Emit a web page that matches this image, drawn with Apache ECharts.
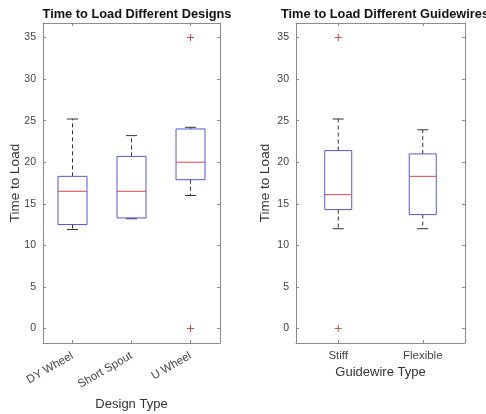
<!DOCTYPE html>
<html>
<head>
<meta charset="utf-8">
<script src="https://cdn.jsdelivr.net/npm/echarts@6/dist/echarts.min.js"></script>
<style>
  html, body { margin: 0; padding: 0; background: #fff; }
  #chart { width: 486px; height: 414px; }
</style>
</head>
<body>
<div id="chart"></div>
<script>
// design boxplot stats
var designCats = ['DY Wheel', 'Short Spout', 'U Wheel'];
var designLow = [11.9, 13.2, 16.0];
var designQ1 = [12.5, 13.3, 17.9];
var designMed = [16.5, 16.5, 20.0];
var designQ3 = [18.3, 20.7, 24.0];
var designHigh = [25.2, 23.2, 24.2];
var designOutliers = [[2, 35], [2, 0]];

// guidewire boxplot stats
var guideCats = ['Stiff', 'Flexible'];
var guideLow = [12.0, 12.0];
var guideQ1 = [14.3, 13.7];
var guideMed = [16.1, 18.3];
var guideQ3 = [21.4, 21.0];
var guideHigh = [25.2, 23.9];
var guideOutliers = [[0, 35], [0, 0]];

var yTicks = [0, 5, 10, 15, 20, 25, 30, 35];
var yMin = -1.75, yMax = 36.75;

var font = 'Liberation Sans, Arial, sans-serif';
var axisColor = '#8c8c8c';

function boxData(low, q1, med, q3, high) {
  return low.map(function (v, i) { return [i, v, q1[i], med[i], q3[i], high[i]]; });
}

function boxRender(bw) {
  return function (params, api) {
    var x = api.value(0);
    var lo = api.coord([x, api.value(1)]);
    var q1 = api.coord([x, api.value(2)]);
    var md = api.coord([x, api.value(3)]);
    var q3 = api.coord([x, api.value(4)]);
    var hi = api.coord([x, api.value(5)]);
    var cx = lo[0];
    var cw = 11;
    var dash = { stroke: '#333', lineWidth: 1, lineDash: [4, 3] };
    var solid = { stroke: '#333', lineWidth: 1 };
    return {
      type: 'group',
      children: [
        { type: 'line', shape: { x1: cx, y1: q3[1], x2: cx, y2: hi[1] }, style: dash },
        { type: 'line', shape: { x1: cx, y1: q1[1], x2: cx, y2: lo[1] }, style: dash },
        { type: 'line', shape: { x1: cx - cw / 2, y1: hi[1], x2: cx + cw / 2, y2: hi[1] }, style: solid },
        { type: 'line', shape: { x1: cx - cw / 2, y1: lo[1], x2: cx + cw / 2, y2: lo[1] }, style: solid },
        { type: 'rect', shape: { x: cx - bw / 2, y: q3[1], width: bw, height: q1[1] - q3[1] },
          style: { fill: 'none', stroke: '#5656d8', lineWidth: 1 } },
        { type: 'line', shape: { x1: cx - bw / 2, y1: md[1], x2: cx + bw / 2, y2: md[1] },
          style: { stroke: '#e04848', lineWidth: 1 } }
      ]
    };
  };
}

function plusRender(params, api) {
  var p = api.coord([api.value(0), api.value(1)]);
  var s = 3.5;
  var st = { stroke: '#d04a4a', lineWidth: 1 };
  return {
    type: 'group',
    children: [
      { type: 'line', shape: { x1: p[0] - s, y1: p[1], x2: p[0] + s, y2: p[1] }, style: st },
      { type: 'line', shape: { x1: p[0], y1: p[1] - s, x2: p[0], y2: p[1] + s }, style: st }
    ]
  };
}

function yAxisPair(grid, name, gap) {
  return [
    {
      gridIndex: grid, type: 'value', min: yMin, max: yMax, position: 'left',
      name: name, nameLocation: 'middle', nameGap: gap, nameMoveOverlap: false,
      nameTextStyle: { fontFamily: font, fontSize: 13.5, color: '#333' },
      axisLine: { show: true, onZero: false, lineStyle: { color: axisColor } },
      axisTick: { show: true, inside: true, length: 3, customValues: yTicks, lineStyle: { color: axisColor } },
      axisLabel: { customValues: yTicks, margin: 7, fontFamily: font, fontSize: 10.5, color: '#444' },
      splitLine: { show: false }
    },
    {
      gridIndex: grid, type: 'value', min: yMin, max: yMax, position: 'right',
      axisLine: { show: true, onZero: false, lineStyle: { color: axisColor } },
      axisTick: { show: true, inside: true, length: 3, customValues: yTicks, lineStyle: { color: axisColor } },
      axisLabel: { show: false },
      splitLine: { show: false }
    }
  ];
}

function xAxisPair(grid, cats, name, gap, rotate, margin) {
  return [
    {
      gridIndex: grid, type: 'category', data: cats, position: 'bottom',
      name: name, nameLocation: 'middle', nameGap: gap, nameMoveOverlap: false,
      nameTextStyle: { fontFamily: font, fontSize: 13, color: '#333' },
      axisLine: { show: true, onZero: false, lineStyle: { color: axisColor } },
      axisTick: { show: true, inside: true, length: 3, alignWithLabel: true, lineStyle: { color: axisColor } },
      axisLabel: { rotate: rotate, margin: margin, fontFamily: font, fontSize: 11.5, color: '#444', interval: 0 },
      splitLine: { show: false }
    },
    {
      gridIndex: grid, type: 'category', data: cats, position: 'top',
      axisLine: { show: true, onZero: false, lineStyle: { color: axisColor } },
      axisTick: { show: true, inside: true, length: 3, alignWithLabel: true, lineStyle: { color: axisColor } },
      axisLabel: { show: false },
      splitLine: { show: false }
    }
  ];
}

var chart = echarts.init(document.getElementById('chart'));
chart.setOption({
  animation: false,
  backgroundColor: '#fff',
  title: [
    { text: 'Time to Load Different Designs', left: 132, top: 3, textAlign: 'center',
      textStyle: { fontFamily: font, fontSize: 12.8, fontWeight: 'bold', color: '#111' } },
    { text: 'Time to Load Different Guidewires', left: 380, top: 3, textAlign: 'center',
      textStyle: { fontFamily: font, fontSize: 12.8, fontWeight: 'bold', color: '#111' } }
  ],
  grid: [
    { left: 43, right: 266, top: 23, bottom: 71, outerBoundsMode: 'none', containLabel: false },
    { left: 296, right: 21, top: 23, bottom: 71, outerBoundsMode: 'none', containLabel: false }
  ],
  xAxis: xAxisPair(0, designCats, 'Design Type', 55, 30, 12)
    .concat(xAxisPair(1, guideCats, 'Guidewire Type', 23, 0, 7)),
  yAxis: yAxisPair(0, 'Time to Load', 21).concat(yAxisPair(1, 'Time to Load', 24)),
  series: [
    { type: 'custom', xAxisIndex: 0, yAxisIndex: 0, renderItem: boxRender(29),
      encode: { x: 0, y: [1, 2, 3, 4, 5] },
      data: boxData(designLow, designQ1, designMed, designQ3, designHigh) },
    { type: 'custom', xAxisIndex: 0, yAxisIndex: 0, renderItem: plusRender,
      encode: { x: 0, y: 1 }, data: designOutliers },
    { type: 'custom', xAxisIndex: 2, yAxisIndex: 2, renderItem: boxRender(27),
      encode: { x: 0, y: [1, 2, 3, 4, 5] },
      data: boxData(guideLow, guideQ1, guideMed, guideQ3, guideHigh) },
    { type: 'custom', xAxisIndex: 2, yAxisIndex: 2, renderItem: plusRender,
      encode: { x: 0, y: 1 }, data: guideOutliers }
  ]
});
</script>
</body>
</html>
